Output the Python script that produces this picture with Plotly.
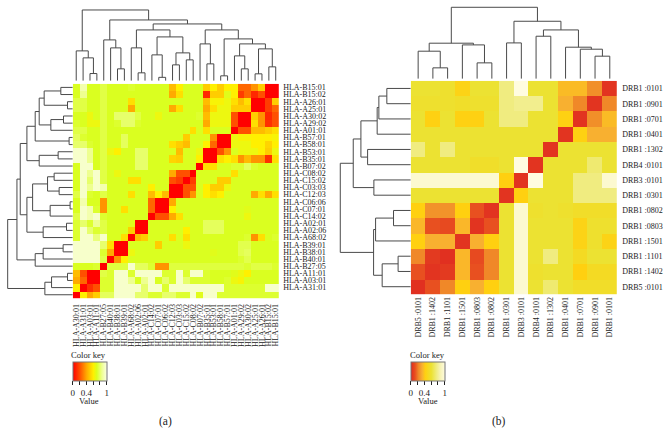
import plotly.graph_objects as go

W, H = 669, 443
SERIF = "Liberation Serif"

A_X_LABELS = ["HLA-A30:01","HLA-A31:01","HLA-A03:01","HLA-A11:01","HLA-B27:05","HLA-B40:01","HLA-B38:01","HLA-B39:01",
              "HLA-A68:02","HLA-A02:06","HLA-A02:01","HLA-C14:02","HLA-C07:01","HLA-C06:02","HLA-C12:03","HLA-C03:03",
              "HLA-C15:02","HLA-C08:02","HLA-B07:02","HLA-B35:01","HLA-B53:01","HLA-B58:01","HLA-B57:01","HLA-A01:01",
              "HLA-A29:02","HLA-A30:02","HLA-A25:01","HLA-A26:01","HLA-B15:02","HLA-B15:01"]
A_Y_LABELS = ["HLA-B15:01","HLA-B15:02","HLA-A26:01","HLA-A25:01","HLA-A30:02","HLA-A29:02","HLA-A01:01","HLA-B57:01",
              "HLA-B58:01","HLA-B53:01","HLA-B35:01","HLA-B07:02","HLA-C08:02","HLA-C15:02","HLA-C03:03","HLA-C12:03",
              "HLA-C06:06","HLA-C07:01","HLA-C14:02","HLA-A02:01","HLA-A02:06","HLA-A68:02","HLA-B39:01","HLA-B38:01",
              "HLA-B40:01","HLA-B27:05","HLA-A11:01","HLA-A03:01","HLA-A31:01",""]

A_VALUES = [
 [.7,.9,.7,.7,.75,.7,.7,.7,.72,.7,.7,.7,.7,.7,.45,.6,.7,.7,.7,.5,.6,.5,.6,.6,.25,.25,.35,.5,0,0],
 [.7,.85,.7,.7,.75,.7,.7,.7,.7,.7,.7,.7,.7,.7,.4,.55,.7,.7,.7,.1,.5,.5,.68,.6,.15,.25,.1,.2,0,0],
 [.75,.75,.7,.7,.75,.7,.7,.7,.55,.7,.7,.7,.7,.7,.7,.7,.7,.7,.7,.45,.62,.62,.65,.55,.45,.55,0,0,.15,.5],
 [.75,.75,.7,.7,.75,.7,.7,.7,.4,.7,.7,.7,.7,.7,.4,.55,.7,.7,.7,.4,.55,.65,.65,.5,.5,.5,0,0,.15,.25],
 [.7,.7,.65,.7,.75,.7,.8,.8,.8,.75,.7,.7,.65,.7,.7,.7,.7,.7,.72,.45,.65,.65,.65,.2,0,0,.5,.35,.1,.2],
 [.72,.7,.65,.65,.75,.7,.72,.8,.8,.72,.7,.7,.7,.7,.7,.7,.7,.7,.7,.4,.65,.65,.65,.2,0,0,.55,.35,.12,.2],
 [.75,.75,.7,.7,.75,.7,.7,.7,.7,.7,.7,.7,.7,.7,.7,.7,.7,.55,.7,.55,.7,.7,.7,0,.2,.2,.45,.45,.5,.55],
 [.78,.72,.7,.7,.75,.7,.7,.78,.7,.7,.7,.7,.7,.7,.7,.7,.5,.7,.7,.7,.35,0,0,.65,.62,.62,.6,.6,.6,.62],
 [.8,.8,.72,.7,.75,.7,.7,.78,.7,.7,.7,.7,.7,.7,.55,.5,.45,.7,.7,.6,.25,0,0,.65,.65,.65,.6,.6,.52,.6],
 [.95,.95,.85,.7,.75,.65,.6,.7,.7,.8,.8,.7,.7,.7,.7,.45,.7,.7,.65,0,0,.2,.35,.7,.65,.65,.65,.6,.5,.65],
 [.95,.95,.85,.7,.75,.7,.7,.7,.7,.8,.8,.7,.7,.7,.52,.5,.7,.7,.6,0,0,.55,.6,.55,.35,.45,.35,.35,.12,.55],
 [.7,.95,.95,.7,.75,.7,.7,.7,.7,.8,.8,.7,.7,.7,.7,.7,.7,.7,0,.55,.55,.7,.7,.72,.72,.78,.72,.7,.7,.7],
 [.7,.95,.85,.95,.75,.7,.65,.7,.7,.7,.7,.7,.7,.7,.4,.2,.2,0,.7,.7,.7,.7,.7,.55,.7,.7,.7,.7,.7,.7],
 [.7,.95,.8,.95,.75,.7,.7,.7,.55,.55,.7,.7,.7,.7,.2,.15,0,.15,.7,.7,.7,.5,.5,.7,.7,.7,.7,.7,.7,.7],
 [.7,.95,.85,.95,.9,.7,.7,.7,.7,.7,.7,.6,.7,.7,0,0,.2,.2,.7,.6,.5,.5,.65,.7,.7,.7,.7,.7,.7,.7],
 [.75,.95,.72,.7,.75,.7,.7,.7,.55,.7,.7,.45,.6,.45,0,0,.2,.35,.7,.6,.55,.6,.7,.7,.7,.7,.4,.55,.4,.55],
 [.7,.9,.7,.7,.35,.7,.7,.7,.7,.7,.7,.25,0,0,.4,.7,.7,.7,.7,.7,.7,.7,.7,.7,.7,.7,.7,.7,.7,.7],
 [.7,.95,.9,.72,.35,.7,.7,.55,.7,.7,.7,.25,0,0,.6,.7,.7,.7,.7,.7,.7,.7,.7,.7,.7,.68,.7,.7,.7,.7],
 [.75,.95,.9,.95,.72,.7,.7,.7,.7,.7,.7,0,.2,.2,.4,.55,.7,.7,.7,.7,.7,.7,.7,.7,.7,.65,.7,.7,.7,.7],
 [.72,.8,.72,.85,.75,.7,.7,.7,.68,0,0,.7,.7,.7,.7,.7,.7,.7,.7,.78,.78,.78,.7,.7,.7,.7,.7,.7,.7,.7],
 [.72,.95,.8,.72,.75,.7,.7,.7,.5,0,0,.7,.7,.7,.7,.7,.6,.7,.7,.78,.78,.78,.7,.7,.7,.7,.7,.7,.7,.7],
 [.72,.95,.95,.82,.95,.7,.7,.55,0,.45,.5,.7,.7,.7,.55,.7,.55,.7,.7,.7,.7,.7,.7,.7,.7,.72,.35,.55,.7,.72],
 [.95,.95,.95,.95,.8,.55,0,0,.7,.7,.7,.7,.5,.7,.7,.7,.65,.7,.7,.7,.7,.7,.7,.7,.76,.76,.7,.7,.7,.7],
 [.95,.95,.95,.95,.72,.4,0,0,.65,.7,.7,.7,.7,.7,.7,.7,.7,.7,.7,.7,.68,.7,.7,.7,.76,.78,.7,.7,.7,.7],
 [.95,.95,.95,.95,.75,0,.35,.6,.7,.7,.7,.7,.7,.7,.7,.7,.7,.7,.7,.7,.7,.7,.7,.7,.72,.76,.7,.7,.7,.7],
 [.7,.7,.7,.72,0,.74,.74,.74,.95,.78,.78,.72,.35,.35,.74,.74,.74,.74,.74,.74,.74,.74,.74,.74,.74,.72,.75,.75,.75,.72],
 [.45,.2,0,0,.75,.72,.95,.95,.72,.95,.95,.95,.95,.72,.72,.95,.72,.95,.95,.72,.7,.7,.7,.68,.65,.6,.7,.7,.7,.7],
 [.4,.25,0,0,.72,.72,.95,.95,.85,.7,.85,.95,.7,.8,.72,.95,.8,.72,.72,.72,.7,.7,.72,.65,.62,.7,.7,.7,.7,.7],
 [.6,0,.12,.2,.72,.72,.95,.95,.95,.95,.8,.95,.95,.72,.95,.95,.95,.95,.95,.95,.95,.95,.72,.72,.72,.72,.72,.72,.95,.95],
 [0,.6,.4,.5,.78,.78,.95,.95,.95,.8,.8,.72,.72,.8,.8,.72,.72,.95,.68,.95,.95,.72,.72,.72,.72,.72,.72,.72,.72,.72],
]

B_X_LABELS = ["DRB5 :0101","DRB1 :1402","DRB1 :1101","DRB1 :1501","DRB1 :0803","DRB1 :0802","DRB1 :0301",
              "DRB3 :0101","DRB4 :0101","DRB1 :1302","DRB1 :0401","DRB1 :0701","DRB1 :0901","DRB1 :0101"]
B_Y_LABELS = ["DRB1 :0101","DRB1 :0901","DRB1 :0701","DRB1 :0401","DRB1 :1302","DRB4 :0101","DRB3 :0101",
              "DRB1 :0301","DRB1 :0802","DRB1 :0803","DRB1 :1501","DRB1 :1101","DRB1 :1402","DRB5 :0101"]
B_VALUES = [
 [.6,.6,.58,.45,.6,.6,.75,1,.6,.6,.36,.36,.24,.03],
 [.58,.58,.58,.56,.58,.58,.75,.78,.78,.6,.33,.22,.03,.22],
 [.6,.43,.6,.43,.43,.6,.75,.75,.6,.6,.43,.03,.24,.36],
 [.6,.6,.6,.6,.6,.6,.6,.6,.6,.6,.03,.43,.33,.33],
 [.75,.6,.75,.6,.6,.6,.6,.6,.6,.03,.6,.6,.6,.6],
 [.6,.6,.6,.6,.56,.56,.6,1,.03,.6,.6,.6,.72,.6],
 [.95,.95,.95,.95,.95,.95,.42,.03,1,.6,.6,.75,.75,.95],
 [.6,.6,.6,.6,.6,.6,.03,.42,.6,.6,.6,.75,.75,.75],
 [.42,.25,.25,.42,.12,.03,.6,.95,.58,.6,.58,.55,.55,.55],
 [.35,.12,.1,.35,.03,.12,.6,.95,.6,.6,.6,.45,.58,.58],
 [.42,.33,.33,.03,.33,.42,.6,.95,.6,.6,.6,.45,.58,.45],
 [.22,.05,.02,.35,.1,.22,.6,.95,.6,.75,.6,.52,.6,.6],
 [.12,.03,.05,.35,.12,.22,.6,.95,.58,.6,.6,.42,.52,.52],
 [.02,.12,.22,.42,.33,.42,.6,.95,.6,.72,.6,.55,.55,.55],
]

# dendrograms: (height, left, right), leaves are matrix indices
A_TOP_TREE = (71, (30, 0, (23, 1, (7.3, 2, 3))),
              (61, (41, 4, (33, 5, (12, 6, 7))),
               (57, (51, (33, 8, (8, 9, 10)),
                     (44, (26, 11, (3.5, 12, 13)), (28, (16, 14, 15), (21, 16, 17)))),
                (51, (37, 18, (17, 19, 20)),
                 (42, (5, 21, 22),
                  (37, (25, 23, (12, 24, 25)), (32, (7, 26, 27), (14, 28, 29))))))))
A_LEFT_TREE = (65.3,
               (56,
                (52.7,
                 (46, (37.7, (33.7, (28.7, (12, 0, 1), (5.3, 2, 3)), (22, (9.3, 4, 5), 6)), (3.7, 7, 8)),
                  (33.7, (14.7, 9, 10), 11)),
                 (46, (40.3, (25.3, (18.7, 12, 13), (13.7, 14, 15)), (22.7, (2.7, 16, 17), 18)),
                  (29.7, (6.3, 19, 20), 21))),
                (37.7, (29.7, (9.7, 22, 23), 24), 25)),
               (28, (21.3, (5.3, 26, 27), 28), 29))
B_TOP_TREE = (71.7, (35.7, (27.7, 0, (11, 1, 2)), (34, 3, (16, 4, 5))),
              (57.7, (36, 6, 7),
               (49, (42.7, 8, 9), (31.7, 10, (29.7, 11, (22.7, 12, 13))))))
B_LEFT_TREE = (70.7,
               (57.7, (50, (33.7, (32, (24, 0, 1), 2), 3), (43.3, 4, 5)), (37, 6, 7)),
               (37.3, (35.3, (17.3, 8, 9), 10), (28.7, (12.7, 11, 12), 13)))

def segments(node):
    """Return (position, height, xs, ys) for one dendrogram node."""
    if not isinstance(node, tuple):
        return node, 0, [], []
    h, a, b = node
    pa, ha, xa, ya = segments(a)
    pb, hb, xb, yb = segments(b)
    xs = xa + xb + [pa, pa, pb, pb, None]
    ys = ya + yb + [ha, h, h, hb, None]
    return (pa + pb) / 2, h, xs, ys

def xdom(a, b): return [a / W, b / W]
def ydom(top, bottom): return [1 - bottom / H, 1 - top / H]

SCALE_A = [[0, "#FF0000"], [.2, "#FF5000"], [.4, "#FFAA00"], [.6, "#FFF000"], [.7, "#DAFF20"], [.85, "#EEFF90"], [1, "#FCFFE8"]]
SCALE_B = [[0, "#E02A20"], [.12, "#E85020"], [.22, "#F08828"], [.33, "#F8B030"], [.42, "#FFD010"], [.6, "#ECE232"],
           [.75, "#F0EC80"], [.85, "#F6F2B0"], [1, "#FFFCE0"]]
LINE = dict(color="#4a4a4a", width=1)

def colorbar(px):
    return dict(orientation="h", x=px / W, xanchor="left", y=1 - 362 / H, yanchor="top",
                lenmode="pixels", len=34, thicknessmode="pixels", thickness=19,
                xpad=0, ypad=0, outlinecolor="#777", outlinewidth=1, ticks="outside", ticklen=4,
                tickwidth=1, tickcolor="#222", tickvals=[0, .2, .4, .6, .8, 1],
                ticktext=["0", "", "0.4", "", "", "1"], tickfont=dict(family=SERIF, size=9, color="#222"))

fig = go.Figure()

panels = [
    (A_VALUES, A_X_LABELS, A_Y_LABELS, SCALE_A, A_TOP_TREE, A_LEFT_TREE, 72, 279, 83, 298, 80, 0, 72, 3, 3),
    (B_VALUES, B_X_LABELS, B_Y_LABELS, SCALE_B, B_TOP_TREE, B_LEFT_TREE, 411, 618, 80, 294, 78, 335, 76, 0, 4),
]
layout = {}
k = 1
for z, xl, yl, scale, top, left, x0, x1, y0, y1, top_base, left_x, left_span, x_off, y_off in panels:
    n = len(z)
    hx, hy, tx, ty, lx, ly = [f"{p}{'' if i == 1 else i}" for i in range(k, k + 3) for p in ("x", "y")]
    fig.add_trace(go.Heatmap(z=z, x=list(range(n)), y=list(range(n)), colorscale=scale, zmin=0, zmax=1,
                             xaxis=hx, yaxis=hy, colorbar=colorbar(x0), hoverongaps=False))
    _, _, xs, ys = segments(top)
    fig.add_trace(go.Scatter(x=xs, y=ys, mode="lines", line=LINE, xaxis=tx, yaxis=ty, showlegend=False))
    _, _, xs, ys = segments(left)
    fig.add_trace(go.Scatter(x=ys, y=xs, mode="lines", line=LINE, xaxis=lx, yaxis=ly, showlegend=False))
    font = dict(family=SERIF, size=8, color="#222")
    plain = dict(showgrid=False, zeroline=False, showline=False, showticklabels=False, ticks="")
    layout[hx.replace("x", "xaxis")] = dict(domain=xdom(x0, x1), range=[-.5, n - .5], tickmode="array",
        tickvals=list(range(n)), ticktext=xl, tickangle=-90, tickfont=font, ticks="", showgrid=False, zeroline=False,
        showline=False, anchor=hy, ticklabelstandoff=x_off)
    layout[hy.replace("y", "yaxis")] = dict(domain=ydom(y0, y1), range=[n - .5, -.5], tickmode="array",
        tickvals=list(range(n)), ticktext=yl, side="right", tickfont=font, ticks="", showgrid=False, zeroline=False,
        showline=False, anchor=hx, ticklabelstandoff=y_off)
    layout[tx.replace("x", "xaxis")] = dict(domain=xdom(x0, x1), range=[-.5, n - .5], anchor=ty, **plain)
    layout[ty.replace("y", "yaxis")] = dict(domain=ydom(0, top_base), range=[0, top_base], anchor=tx, **plain)
    layout[lx.replace("x", "xaxis")] = dict(domain=xdom(left_x, x0), range=[left_span, 0], anchor=ly, **plain)
    layout[ly.replace("y", "yaxis")] = dict(domain=ydom(y0, y1), range=[n - .5, -.5], anchor=lx, **plain)
    k += 3

def note(text, px, py, size=8.6):
    return dict(text=text, x=px / W, y=1 - py / H, xref="paper", yref="paper", showarrow=False, xanchor="center",
                yanchor="middle", font=dict(family=SERIF, size=size, color="#222"))

fig.update_layout(width=W, height=H, margin=dict(l=0, r=0, t=0, b=0), autosize=False, paper_bgcolor="white",
                  plot_bgcolor="white", showlegend=False,
                  annotations=[note("Color key", 88, 355), note("Color key", 428, 355),
                               note("Value", 88, 401), note("Value", 428, 401),
                               note("(a)", 165, 421, 11.5), note("(b)", 499, 421, 11.5)],
                  **layout)
fig.write_html("out.html", config=dict(displayModeBar=False),
               post_script="document.body.style.margin='0';document.documentElement.style.overflow='hidden';")
